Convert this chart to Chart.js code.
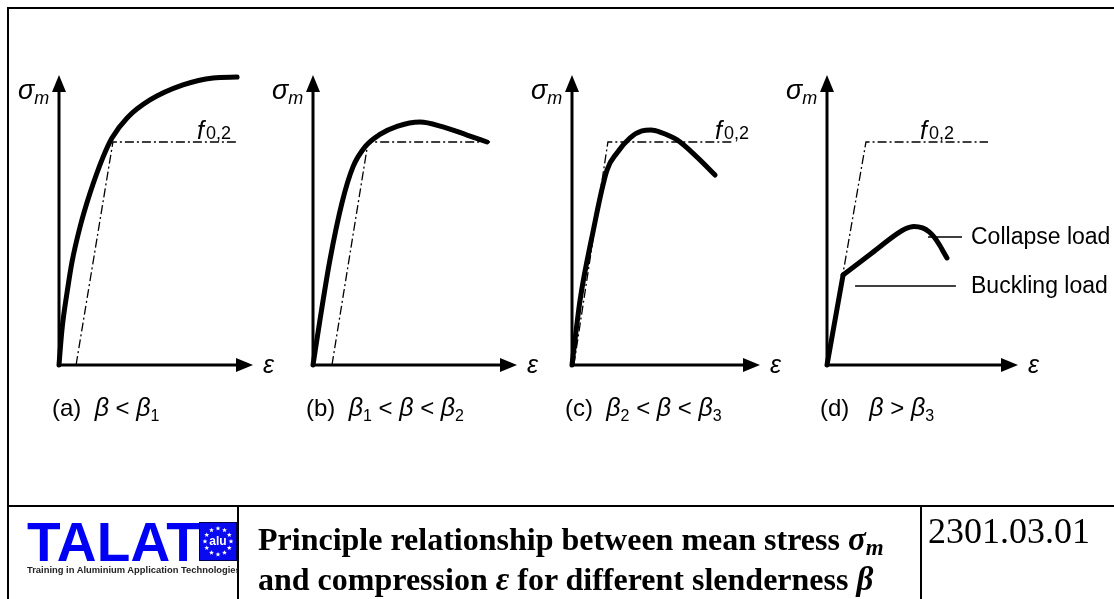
<!DOCTYPE html>
<html>
<head>
<meta charset="utf-8">
<title>Mean stress vs compression</title>
<script src="https://cdn.jsdelivr.net/npm/chart.js@4.4.1/dist/chart.umd.min.js"></script>
<style>
  html, body { margin: 0; padding: 0; background: #fff; }
  #page { position: relative; width: 1114px; height: 599px; overflow: hidden; background: #fff; }
  .panel { position: absolute; top: 60px; }
  .rule { position: absolute; background: #000; }
  #frame { position: absolute; left: 7px; top: 7px; width: 1130px; height: 620px; border: 2px solid #000; box-sizing: border-box; }
  #logo { position: absolute; left: 27px; top: 515px; font: bold 55px/55px "Liberation Sans", Arial, sans-serif; color: #0000f5; letter-spacing: 0.2px; }
  #euBox { position: absolute; left: 199px; top: 522px; width: 38px; height: 39px; }
  #alu { position: absolute; left: 199px; top: 534px; width: 38px; text-align: center; font: bold 12px/14px "Liberation Sans", Arial, sans-serif; color: #fff; }
  #tagline { position: absolute; left: 27px; top: 565px; width: 211px; overflow: hidden; white-space: nowrap; font: bold 9.4px/10px "Liberation Sans", Arial, sans-serif; color: #222; }
  #title { position: absolute; left: 258px; top: 521px; white-space: nowrap; font: bold 32px/37px "Liberation Serif", "Times New Roman", serif; color: #000; }
  #title .gk { font-style: italic; font-size: 33px; }
  #title .sb { font-size: 23px; position: relative; top: 5px; }
  #code { position: absolute; left: 928px; top: 513px; white-space: nowrap; font: 36px/36px "Liberation Serif", "Times New Roman", serif; color: #000; }
</style>
</head>
<body>
<div id="page">
  <div id="frame"></div>
  <div class="rule" style="left:7px; top:505px; width:1120px; height:2px;"></div>
  <div class="rule" style="left:237px; top:505px; width:2px; height:100px;"></div>
  <div class="rule" style="left:920px; top:505px; width:2px; height:100px;"></div>

  <div id="logo">TALAT</div>
  <canvas id="euBox" width="38" height="39"></canvas>
  <div id="alu">alu</div>
  <div id="tagline">Training in Aluminium Application Technologies</div>

  <div id="title">Principle relationship between mean stress <span class="gk">σ<span class="sb">m</span></span><br>and compression <span class="gk">ε</span> for different slenderness <span class="gk">β</span></div>
  <div id="code">2301.03.01</div>

  <canvas id="panelA" class="panel"></canvas>
  <canvas id="panelB" class="panel"></canvas>
  <canvas id="panelC" class="panel"></canvas>
  <canvas id="panelD" class="panel"></canvas>
</div>

<script>
// axis units: 0 at the origin, 100 at the arrow tip (strain to the right, stress upwards)
const f02 = 76.9;

// (a) beta < beta1
const strainA = [0, 1.5, 4.6, 6.7, 10.8, 16.0, 22.7, 27.3, 35.1, 46.9, 63.9, 79.4, 91.8];
const stressA = [0, 12.0, 26.9, 35.5, 47.5, 59.3, 71.7, 78.3, 85.2, 91.4, 96.6, 99.0, 99.3];
const proofStrainA = [8.8, 27.8, 91.8];

// (b) beta1 < beta < beta2
const strainB = [0, 3.4, 8.3, 14.2, 19.6, 25.5, 32.8, 41.2, 52.5, 63.7, 75.5, 85.3];
const stressB = [0, 15.5, 36.2, 55.9, 68.3, 75.2, 79.5, 82.3, 83.8, 82.1, 79.3, 76.9];
const proofStrainB = [9.3, 27.0, 86.8];

// (c) beta2 < beta < beta3
const strainC = [0, 4.3, 10.6, 18.6, 23.9, 30.9, 37.2, 42.0, 46.8, 55.9, 66.5, 76.1];
const stressC = [0, 22.4, 44.1, 67.2, 73.1, 78.3, 80.7, 81.0, 80.3, 77.6, 71.7, 65.5];
const proofStrainC = [1.0, 19.1, 85.6];

// (d) beta > beta3: straight up to buckling, then post-buckling up to collapse
const strainD = [0, 8.4];
const stressD = [0, 31.0];
const postStrainD = [8.4, 22.5, 36.6, 40.8, 45.5, 50.0, 53.5, 56.5, 59.0, 61.0, 62.8];
const postStressD = [31.0, 38.1, 45.2, 46.9, 47.8, 47.3, 45.9, 43.8, 41.3, 39.0, 36.9];
const proofStrainD = [0, 20.4, 84.3];

const proofStress = [0, f02, f02];

// leader lines to the notes in (d)
const collapseStrain = [52.9, 70.7];
const collapseStress = [44.1, 44.1];
const bucklingStrain = [14.7, 67.5];
const bucklingStress = [27.2, 27.2];

const toXY = (xs, ys) => xs.map((x, i) => ({ x: x, y: ys[i] }));

const FONT = '"Liberation Sans", Arial, sans-serif';

// draws a run of text pieces: [text, kind] with kind n = normal, i = italic,
// s = subscript, si = italic subscript
function drawRun(ctx, x, y, pieces, size) {
  let cx = x;
  pieces.forEach(([t, kind]) => {
    let fs = size, dy = 0, it = '';
    if (kind === 'i') { it = 'italic '; fs = size + 1; }
    if (kind === 's' || kind === 'si') { fs = Math.round(size * 0.68); dy = 5; }
    if (kind === 'si') it = 'italic ';
    ctx.font = it + fs + 'px ' + FONT;
    ctx.fillText(t, cx, y + dy);
    cx += ctx.measureText(t).width;
  });
}

const diagramPlugin = {
  id: 'diagram',
  beforeDatasetsDraw(chart) {
    const { ctx, scales: { x, y } } = chart;
    const x0 = x.getPixelForValue(0), x1 = x.getPixelForValue(100);
    const y0 = y.getPixelForValue(0), y1 = y.getPixelForValue(100);
    ctx.save();
    ctx.strokeStyle = '#000';
    ctx.fillStyle = '#000';
    ctx.lineWidth = 3;
    ctx.beginPath();
    ctx.moveTo(x0, y0); ctx.lineTo(x1 - 10, y0);
    ctx.moveTo(x0, y0 + 1.5); ctx.lineTo(x0, y1 + 10);
    ctx.stroke();
    ctx.beginPath();
    ctx.moveTo(x1, y0); ctx.lineTo(x1 - 17, y0 - 7); ctx.lineTo(x1 - 17, y0 + 7); ctx.closePath();
    ctx.moveTo(x0, y1); ctx.lineTo(x0 - 7, y1 + 17); ctx.lineTo(x0 + 7, y1 + 17); ctx.closePath();
    ctx.fill();
    ctx.restore();
  },
  afterDatasetsDraw(chart, args, opts) {
    const { ctx, scales: { x, y } } = chart;
    const x0 = x.getPixelForValue(0), x1 = x.getPixelForValue(100);
    const y0 = y.getPixelForValue(0), y1 = y.getPixelForValue(100);
    ctx.save();
    ctx.fillStyle = '#000';
    ctx.textBaseline = 'alphabetic';
    // axis names
    drawRun(ctx, x0 - 41, y1 + 24, [['σ', 'i'], ['m', 'si']], 26);
    drawRun(ctx, x1 + 10, y0 + 8, [['ε', 'i']], 24);
    // proof stress name
    if (opts.fAt != null) {
      const fy = y.getPixelForValue(f02) - 3;
      let fx = x.getPixelForValue(opts.fAt);
      ctx.font = 'italic 25px ' + FONT;
      ctx.fillText('f', fx, fy);
      fx += ctx.measureText('f').width + 2;
      ctx.font = '18px ' + FONT;
      ctx.fillText('0,2', fx, fy);
    }
    // panel caption
    drawRun(ctx, x0 - 7, y0 + 51, opts.caption, 24);
    // notes
    (opts.notes || []).forEach(n => {
      ctx.font = '23px ' + FONT;
      ctx.textBaseline = 'middle';
      ctx.fillText(n.text, x.getPixelForValue(n.at), y.getPixelForValue(n.level) + 1);
    });
    ctx.restore();
  }
};

const curveStyle = {
  borderColor: '#000', borderWidth: 5, borderCapStyle: 'round', borderJoinStyle: 'round',
  pointRadius: 0, fill: false, cubicInterpolationMode: 'monotone', clip: false
};
const proofStyle = {
  borderColor: '#000', borderWidth: 1.3, borderDash: [9, 3, 2, 3],
  pointRadius: 0, fill: false, tension: 0, clip: false
};
const leaderStyle = {
  borderColor: '#000', borderWidth: 1.5, pointRadius: 0, fill: false, tension: 0, clip: false
};

const panels = [
  {
    id: 'panelA', originX: 59, axisLen: 194, width: 290, fAt: 71.1,
    caption: [['(a)  ', 'n'], ['β', 'i'], [' < ', 'n'], ['β', 'i'], ['1', 's']],
    datasets: [
      Object.assign({ data: toXY(strainA, stressA) }, curveStyle),
      Object.assign({ data: toXY(proofStrainA, proofStress) }, proofStyle)
    ]
  },
  {
    id: 'panelB', originX: 313, axisLen: 204, width: 290, fAt: null,
    caption: [['(b)  ', 'n'], ['β', 'i'], ['1', 's'], [' < ', 'n'], ['β', 'i'], [' < ', 'n'], ['β', 'i'], ['2', 's']],
    datasets: [
      Object.assign({ data: toXY(strainB, stressB) }, curveStyle),
      Object.assign({ data: toXY(proofStrainB, proofStress) }, proofStyle)
    ]
  },
  {
    id: 'panelC', originX: 572, axisLen: 188, width: 280, fAt: 76.1,
    caption: [['(c)  ', 'n'], ['β', 'i'], ['2', 's'], [' < ', 'n'], ['β', 'i'], [' < ', 'n'], ['β', 'i'], ['3', 's']],
    datasets: [
      Object.assign({ data: toXY(strainC, stressC) }, curveStyle),
      Object.assign({ data: toXY(proofStrainC, proofStress) }, proofStyle)
    ]
  },
  {
    id: 'panelD', originX: 827, axisLen: 191, width: 339, fAt: 48.7,
    caption: [['(d)   ', 'n'], ['β', 'i'], [' > ', 'n'], ['β', 'i'], ['3', 's']],
    notes: [
      { text: 'Collapse load', at: 75.4, level: collapseStress[0] },
      { text: 'Buckling load', at: 75.4, level: bucklingStress[0] }
    ],
    datasets: [
      Object.assign({ data: toXY(strainD, stressD) }, curveStyle, { cubicInterpolationMode: 'default', tension: 0 }),
      Object.assign({ data: toXY(postStrainD, postStressD) }, curveStyle),
      Object.assign({ data: toXY(collapseStrain, collapseStress) }, leaderStyle),
      Object.assign({ data: toXY(bucklingStrain, bucklingStress) }, leaderStyle),
      Object.assign({ data: toXY(proofStrainD, proofStress) }, proofStyle)
    ]
  }
];

const padL = 52, padT = 15, padB = 75, canvasH = 380;

panels.forEach(p => {
  const cv = document.getElementById(p.id);
  cv.width = p.width;
  cv.height = canvasH;
  cv.style.width = p.width + 'px';
  cv.style.height = canvasH + 'px';
  cv.style.left = (p.originX - padL) + 'px';
  new Chart(cv, {
    type: 'line',
    data: { datasets: p.datasets },
    options: {
      responsive: false,
      animation: false,
      events: [],
      devicePixelRatio: 1,
      layout: { padding: { left: padL, top: padT, right: p.width - padL - p.axisLen, bottom: padB } },
      scales: {
        x: { type: 'linear', min: 0, max: 100, display: false },
        y: { type: 'linear', min: 0, max: 100, display: false }
      },
      plugins: {
        legend: { display: false },
        tooltip: { enabled: false },
        diagram: { fAt: p.fAt, caption: p.caption, notes: p.notes }
      }
    },
    plugins: [diagramPlugin]
  });
});

// star ring of the logo box
const eu = document.getElementById('euBox').getContext('2d');
eu.fillStyle = '#0a0af0';
eu.fillRect(0, 0, 38, 39);
eu.strokeStyle = '#000050';
eu.lineWidth = 1;
eu.strokeRect(0.5, 0.5, 37, 38);
eu.fillStyle = '#fff';
for (let k = 0; k < 12; k++) {
  const a = k * Math.PI / 6;
  const cx = 19 + 13 * Math.sin(a), cy = 19.5 - 13 * Math.cos(a);
  eu.beginPath();
  for (let j = 0; j < 10; j++) {
    const r = j % 2 ? 1.1 : 2.6;
    const b = j * Math.PI / 5 - Math.PI / 2;
    eu.lineTo(cx + r * Math.cos(b), cy + r * Math.sin(b));
  }
  eu.closePath();
  eu.fill();
}
</script>
</body>
</html>
